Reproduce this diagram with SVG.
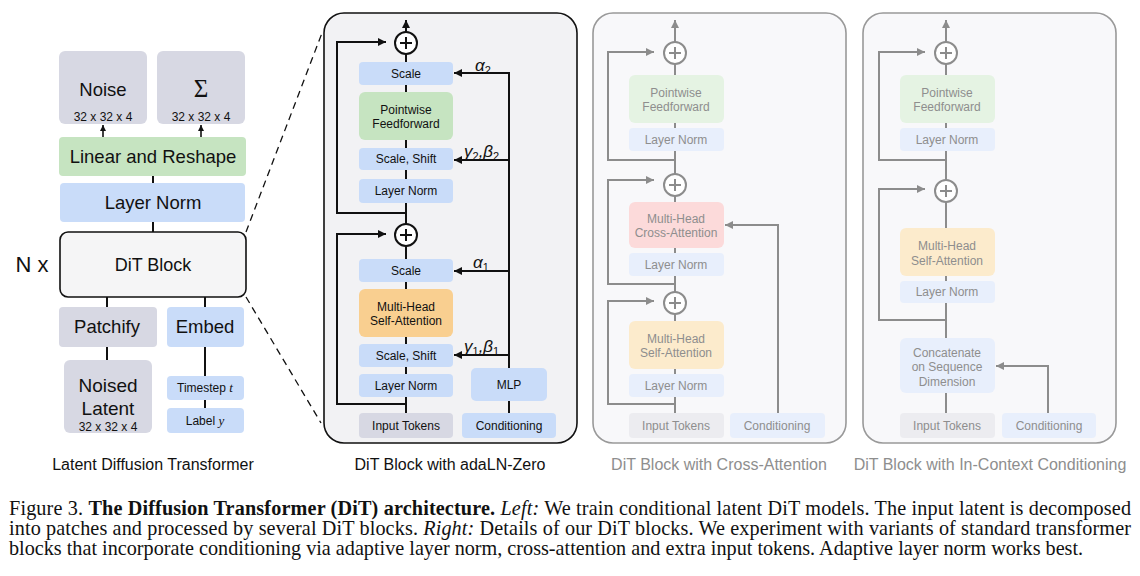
<svg xmlns="http://www.w3.org/2000/svg" width="1140" height="576" viewBox="0 0 1140 576">
<defs>
<marker id="ab" markerUnits="userSpaceOnUse" markerWidth="9" markerHeight="8" refX="8" refY="4" orient="auto"><path d="M0,0 L8,4 L0,8 z" fill="#111"/></marker>
<marker id="ag" markerUnits="userSpaceOnUse" markerWidth="9" markerHeight="8" refX="8" refY="4" orient="auto"><path d="M0,0 L8,4 L0,8 z" fill="#8c8c8c"/></marker>
<marker id="as" markerUnits="userSpaceOnUse" markerWidth="7" markerHeight="7" refX="6" refY="3" orient="auto"><path d="M0,0 L6,3 L0,6 z" fill="#111"/></marker>
</defs>
<style>
text{font-family:"Liberation Sans",Arial,sans-serif;text-anchor:middle;fill:#111}
.g text,text.gt{fill:#8e8e8e}
.gray{fill:#d7d8e3}.blue{fill:#c9dcf9}.green{fill:#c6e4c1}.orange{fill:#f9cf90}
.fgray{fill:#ececf0}.fblue{fill:#e8effc}.fgreen{fill:#e5f3e3}.fpink{fill:#fcdada}.forange{fill:#fcebcc}
.lb{stroke:#111;stroke-width:2;fill:none}
.lg{stroke:#8c8c8c;stroke-width:2;fill:none}
.s12{font-size:12px}
.s18{font-size:18.5px}
.cap{font-size:16px}
.math{font-family:"Liberation Serif","DejaVu Serif",serif;font-style:italic}
.fig{font-family:"Liberation Serif","Times New Roman",serif;font-size:20.2px;text-anchor:start;fill:#111}
</style>

<!-- Left: Latent Diffusion Transformer -->
<g id="noise"><rect x="59" y="51" width="88" height="73" rx="6" class="gray"/><text x="103" y="96" class="s18">Noise</text><text x="103" y="121" class="s12">32 x 32 x 4</text></g>
<g id="sigma"><rect x="157" y="51" width="88" height="73" rx="6" class="gray"/><text x="201" y="97" style="font-family:'Liberation Serif',serif;font-size:25px">Σ</text><text x="201" y="121" class="s12">32 x 32 x 4</text></g>
<g id="linear"><rect x="59" y="137" width="187" height="39" rx="4" class="green"/><text x="153" y="163" class="s18">Linear and Reshape</text></g>
<g id="layernorm"><rect x="60" y="183" width="185" height="39" rx="4" class="blue"/><text x="153" y="209" class="s18">Layer Norm</text></g>
<g id="ditblock"><rect x="60" y="232" width="186" height="65" rx="8" fill="#f5f5f6" stroke="#111" stroke-width="1.6"/><text x="153" y="271" style="font-size:18px">DiT Block</text></g>
<g id="nx"><text x="32" y="272" style="font-size:22px">N x</text></g>
<g id="patchify"><rect x="59" y="307" width="98" height="40" rx="4" class="gray"/><text x="107" y="333" class="s18">Patchify</text></g>
<g id="embed"><rect x="167" y="307" width="77" height="40" rx="4" class="blue"/><text x="205" y="333" class="s18">Embed</text></g>
<g id="noised"><rect x="64" y="360" width="88" height="73" rx="6" class="gray"/><text x="108" y="392" style="font-size:19px">Noised</text><text x="108" y="415" style="font-size:19px">Latent</text><text x="108" y="431" class="s12">32 x 32 x 4</text></g>
<g id="timestep"><rect x="167" y="376" width="77" height="24" rx="4" class="blue"/><text x="205" y="392" class="s12">Timestep <tspan class="math" style="font-size:13px">t</tspan></text></g>
<g id="label"><rect x="167" y="408" width="77" height="25" rx="4" class="blue"/><text x="205" y="425" class="s12">Label <tspan class="math" style="font-size:13px">y</tspan></text></g>
<text x="153" y="470" class="cap">Latent Diffusion Transformer</text>

<!-- Middle panel -->
<g id="panel-adaln"><rect x="324" y="13" width="253" height="430" rx="20" fill="#f2f2f4" stroke="#111" stroke-width="1.6"/></g>
<g id="m-plus2"><circle cx="406" cy="43" r="11" fill="#fff" stroke="#111" stroke-width="2"/><path d="M400,43 H412 M406,37 V49" class="lb"/></g>
<g id="m-scale2"><rect x="359" y="62" width="94" height="23" rx="4" class="blue"/><text x="406" y="78" class="s12">Scale</text></g>
<g id="m-ff"><rect x="359" y="92" width="94" height="48" rx="6" class="green"/><text x="406" y="114" class="s12">Pointwise</text><text x="406" y="128" class="s12">Feedforward</text></g>
<g id="m-ss2"><rect x="359" y="148" width="94" height="22" rx="4" class="blue"/><text x="406" y="163" class="s12">Scale, Shift</text></g>
<g id="m-ln2"><rect x="359" y="179" width="94" height="24" rx="4" class="blue"/><text x="406" y="195" class="s12">Layer Norm</text></g>
<g id="m-plus1"><circle cx="406" cy="235" r="11" fill="#fff" stroke="#111" stroke-width="2"/><path d="M400,235 H412 M406,229 V241" class="lb"/></g>
<g id="m-scale1"><rect x="359" y="259" width="94" height="23" rx="4" class="blue"/><text x="406" y="275" class="s12">Scale</text></g>
<g id="m-attn"><rect x="359" y="289" width="94" height="48" rx="6" class="orange"/><text x="406" y="311" class="s12">Multi-Head</text><text x="406" y="325" class="s12">Self-Attention</text></g>
<g id="m-ss1"><rect x="359" y="344" width="94" height="23" rx="4" class="blue"/><text x="406" y="360" class="s12">Scale, Shift</text></g>
<g id="m-ln1"><rect x="359" y="374" width="94" height="23" rx="4" class="blue"/><text x="406" y="390" class="s12">Layer Norm</text></g>
<g id="m-mlp"><rect x="471" y="368" width="76" height="33" rx="5" class="blue"/><text x="509" y="389" class="s12">MLP</text></g>
<g id="m-input"><rect x="359" y="413" width="94" height="25" rx="4" class="gray"/><text x="406" y="430" class="s12">Input Tokens</text></g>
<g id="m-cond"><rect x="462" y="413" width="94" height="25" rx="4" class="blue"/><text x="509" y="430" class="s12">Conditioning</text></g>
<g id="m-labels" style="font-family:'Liberation Serif','DejaVu Serif',serif;font-style:italic;font-size:17px">
<text x="475" y="71" style="text-anchor:start">α<tspan dy="3" font-size="11" font-style="normal">2</tspan></text>
<text x="464" y="157" style="text-anchor:start">γ<tspan dy="3" font-size="11" font-style="normal">2</tspan><tspan dy="-3">,β</tspan><tspan dy="3" font-size="11" font-style="normal">2</tspan></text>
<text x="473" y="268" style="text-anchor:start">α<tspan dy="3" font-size="11" font-style="normal">1</tspan></text>
<text x="464" y="352" style="text-anchor:start">γ<tspan dy="3" font-size="11" font-style="normal">1</tspan><tspan dy="-3">,β</tspan><tspan dy="3" font-size="11" font-style="normal">1</tspan></text>
</g>
<text x="450" y="470" class="cap">DiT Block with adaLN-Zero</text>

<!-- Cross-attention panel -->
<g id="panel-cross" class="g">
<rect x="593" y="13" width="253" height="430" rx="20" fill="#f8f8fa" stroke="#999" stroke-width="1.6"/>
</g>
<g id="c-plus3" class="g"><circle cx="675" cy="53" r="11" fill="#fff" stroke="#8c8c8c" stroke-width="2"/><path d="M669,53 H681 M675,47 V59" class="lg"/></g>
<g id="c-ff" class="g"><rect x="629" y="75" width="95" height="48" rx="6" class="fgreen"/><text x="676" y="97" class="s12">Pointwise</text><text x="676" y="111" class="s12">Feedforward</text></g>
<g id="c-ln3" class="g"><rect x="629" y="128" width="95" height="23" rx="4" class="fblue"/><text x="676" y="144" class="s12">Layer Norm</text></g>
<g id="c-plus2" class="g"><circle cx="675" cy="185" r="11" fill="#fff" stroke="#8c8c8c" stroke-width="2"/><path d="M669,185 H681 M675,179 V191" class="lg"/></g>
<g id="c-cross" class="g"><rect x="629" y="202" width="95" height="46" rx="6" class="fpink"/><text x="676" y="223" class="s12">Multi-Head</text><text x="676" y="237" class="s12">Cross-Attention</text></g>
<g id="c-ln2" class="g"><rect x="629" y="253" width="95" height="23" rx="4" class="fblue"/><text x="676" y="269" class="s12">Layer Norm</text></g>
<g id="c-plus1" class="g"><circle cx="675" cy="303" r="11" fill="#fff" stroke="#8c8c8c" stroke-width="2"/><path d="M669,303 H681 M675,297 V309" class="lg"/></g>
<g id="c-attn" class="g"><rect x="629" y="321" width="95" height="48" rx="6" class="forange"/><text x="676" y="343" class="s12">Multi-Head</text><text x="676" y="357" class="s12">Self-Attention</text></g>
<g id="c-ln1" class="g"><rect x="629" y="374" width="95" height="23" rx="4" class="fblue"/><text x="676" y="390" class="s12">Layer Norm</text></g>
<g id="c-input" class="g"><rect x="629" y="413" width="95" height="25" rx="4" class="fgray"/><text x="676" y="430" class="s12">Input Tokens</text></g>
<g id="c-cond" class="g"><rect x="730" y="413" width="95" height="25" rx="4" class="fblue"/><text x="777" y="430" class="s12">Conditioning</text></g>
<text x="719" y="470" class="cap gt">DiT Block with Cross-Attention</text>

<!-- In-context panel -->
<g id="panel-incontext" class="g">
<rect x="863" y="13" width="253" height="430" rx="20" fill="#f8f8fa" stroke="#999" stroke-width="1.6"/>
</g>
<g id="i-plus2" class="g"><circle cx="946" cy="53" r="11" fill="#fff" stroke="#8c8c8c" stroke-width="2"/><path d="M940,53 H952 M946,47 V59" class="lg"/></g>
<g id="i-ff" class="g"><rect x="900" y="75" width="95" height="48" rx="6" class="fgreen"/><text x="947" y="97" class="s12">Pointwise</text><text x="947" y="111" class="s12">Feedforward</text></g>
<g id="i-ln2" class="g"><rect x="900" y="128" width="95" height="23" rx="4" class="fblue"/><text x="947" y="144" class="s12">Layer Norm</text></g>
<g id="i-plus1" class="g"><circle cx="946" cy="191" r="11" fill="#fff" stroke="#8c8c8c" stroke-width="2"/><path d="M940,191 H952 M946,185 V197" class="lg"/></g>
<g id="i-attn" class="g"><rect x="900" y="228" width="95" height="48" rx="6" class="forange"/><text x="947" y="250" class="s12">Multi-Head</text><text x="947" y="265" class="s12">Self-Attention</text></g>
<g id="i-ln1" class="g"><rect x="900" y="281" width="95" height="22" rx="4" class="fblue"/><text x="947" y="296" class="s12">Layer Norm</text></g>
<g id="i-concat" class="g"><rect x="900" y="338" width="95" height="55" rx="6" class="fblue"/><text x="947" y="357" class="s12">Concatenate</text><text x="947" y="371" class="s12">on Sequence</text><text x="947" y="386" class="s12">Dimension</text></g>
<g id="i-input" class="g"><rect x="900" y="413" width="95" height="25" rx="4" class="fgray"/><text x="947" y="430" class="s12">Input Tokens</text></g>
<g id="i-cond" class="g"><rect x="1002" y="413" width="94" height="25" rx="4" class="fblue"/><text x="1049" y="430" class="s12">Conditioning</text></g>
<text x="990" y="470" class="cap gt">DiT Block with In-Context Conditioning</text>

<!-- Connectors -->
<g id="connectors">
<path d="M103,137 V125" stroke="#111" stroke-width="1.6" marker-end="url(#as)"/>
<path d="M201,137 V125" stroke="#111" stroke-width="1.6" marker-end="url(#as)"/>
<path d="M153,176 V183 M153,222 V232 M107,297 V307 M205,297 V307 M107,347 V360 M205,347 V376 M205,400 V408" class="lb"/>
<path d="M246,232 L322,33 M246,297 L321,423" stroke="#111" stroke-width="1.3" stroke-dasharray="7,5" fill="none"/>
<path d="M406,32 V20" class="lb" marker-end="url(#ab)"/>
<path d="M406,62 V54 M406,85 V92 M406,140 V148 M406,170 V179 M406,203 V224 M406,259 V246 M406,282 V289 M406,337 V344 M406,367 V374 M406,397 V413 M509,413 V401" class="lb"/>
<path d="M406,213 H337 V42 H386" class="lb" marker-end="url(#ab)"/>
<path d="M406,404 H337 V234 H386" class="lb" marker-end="url(#ab)"/>
<path d="M509,368 V73 H454" class="lb" marker-end="url(#ab)"/>
<path d="M509,160 H454" class="lb" marker-end="url(#ab)"/>
<path d="M509,271 H454" class="lb" marker-end="url(#ab)"/>
<path d="M509,355 H454" class="lb" marker-end="url(#ab)"/>
<path d="M675,42 V20" class="lg" marker-end="url(#ag)"/>
<path d="M675,75 V64 M675,123 V128 M675,151 V174 M675,196 V202 M675,248 V253 M675,276 V292 M675,314 V321 M675,369 V374 M675,397 V413" class="lg"/>
<path d="M675,160 H608 V52 H654" class="lg" marker-end="url(#ag)"/>
<path d="M675,284 H608 V180 H654" class="lg" marker-end="url(#ag)"/>
<path d="M675,404 H608 V301 H654" class="lg" marker-end="url(#ag)"/>
<path d="M778,413 V225 H725" class="lg" marker-end="url(#ag)"/>
<path d="M946,42 V20" class="lg" marker-end="url(#ag)"/>
<path d="M946,75 V64 M946,123 V128 M946,151 V180 M946,202 V228 M946,276 V281 M946,303 V338 M946,393 V413" class="lg"/>
<path d="M946,160 H879 V52 H925" class="lg" marker-end="url(#ag)"/>
<path d="M946,320 H879 V189 H925" class="lg" marker-end="url(#ag)"/>
<path d="M1048,413 V366 H996" class="lg" marker-end="url(#ag)"/>
</g>

<!-- Figure caption -->
<g id="caption">
<text class="fig" x="9" y="515" textLength="1122" lengthAdjust="spacing">Figure 3. <tspan font-weight="bold">The Diffusion Transformer (DiT) architecture.</tspan> <tspan font-style="italic">Left:</tspan> We train conditional latent DiT models. The input latent is decomposed</text>
<text class="fig" x="9" y="535" textLength="1122" lengthAdjust="spacing">into patches and processed by several DiT blocks. <tspan font-style="italic">Right:</tspan> Details of our DiT blocks. We experiment with variants of standard transformer</text>
<text class="fig" x="9" y="555">blocks that incorporate conditioning via adaptive layer norm, cross-attention and extra input tokens. Adaptive layer norm works best.</text>
</g>
</svg>
